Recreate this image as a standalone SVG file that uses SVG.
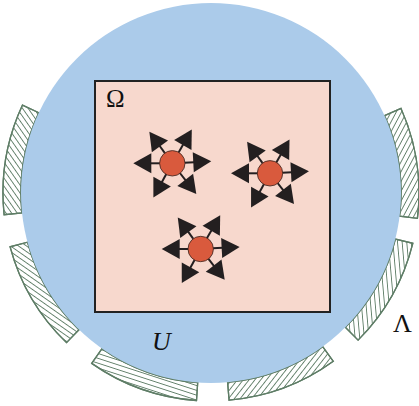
<svg xmlns="http://www.w3.org/2000/svg" xmlns:xlink="http://www.w3.org/1999/xlink" width="419" height="406" viewBox="0 0 419 406">
<style>
.arc{stroke:#5e7d66;stroke-width:1.3;stroke-linejoin:miter}
.hl{stroke:#5e7d66;stroke-width:0.9}
.lbl{font-family:"Liberation Serif","DejaVu Serif",serif;fill:#111}
.ar{fill:#231f20}
.sp{stroke:#231f20;stroke-width:2}
.core{fill:#d95a3d;stroke:#3a2420;stroke-width:0.8}
</style>
<defs>
<pattern id="hA" width="4.6" height="4.6" patternUnits="userSpaceOnUse" patternTransform="rotate(55)"><line class="hl" x1="0" y1="2.3" x2="4.6" y2="2.3"/></pattern>
<pattern id="hB" width="4.6" height="4.6" patternUnits="userSpaceOnUse" patternTransform="rotate(35)"><line class="hl" x1="0" y1="2.3" x2="4.6" y2="2.3"/></pattern>
<pattern id="hC" width="4.6" height="4.6" patternUnits="userSpaceOnUse" patternTransform="rotate(18)"><line class="hl" x1="0" y1="2.3" x2="4.6" y2="2.3"/></pattern>
<pattern id="hD" width="4.6" height="4.6" patternUnits="userSpaceOnUse" patternTransform="rotate(-52)"><line class="hl" x1="0" y1="2.3" x2="4.6" y2="2.3"/></pattern>
<pattern id="hE" width="4.6" height="4.6" patternUnits="userSpaceOnUse" patternTransform="rotate(85)"><line class="hl" x1="0" y1="2.3" x2="4.6" y2="2.3"/></pattern>
<pattern id="hF" width="4.6" height="4.6" patternUnits="userSpaceOnUse" patternTransform="rotate(-62)"><line class="hl" x1="0" y1="2.3" x2="4.6" y2="2.3"/></pattern>
<g id="spoke">
<line class="sp" x1="12" y1="0" x2="22" y2="0"/>
<path class="ar" d="M21,-10 L39,0 L21,10 Z"/>
</g>
<g id="star">
<use xlink:href="#spoke" transform="rotate(-3)"/>
<use xlink:href="#spoke" transform="rotate(-60)"/>
<use xlink:href="#spoke" transform="rotate(-126)"/>
<use xlink:href="#spoke" transform="rotate(-180)"/>
<use xlink:href="#spoke" transform="rotate(-241)"/>
<use xlink:href="#spoke" transform="rotate(-308)"/>
</g>
</defs>

<g id="arcs">
<path class="arc" fill="#fff" d="M22.5,105.1 A208,208 0 0 0 4.1,214.7 L22.0,212.9 A190,190 0 0 1 38.8,112.7 Z"/>
<path class="arc" fill="url(#hA)" d="M22.5,105.1 A208,208 0 0 0 4.1,214.7 L22.0,212.9 A190,190 0 0 1 38.8,112.7 Z"/>
<path class="arc" fill="#fff" d="M10.1,246.8 A208,208 0 0 0 66.5,342.6 L79.0,329.7 A190,190 0 0 1 27.5,242.2 Z"/>
<path class="arc" fill="url(#hB)" d="M10.1,246.8 A208,208 0 0 0 66.5,342.6 L79.0,329.7 A190,190 0 0 1 27.5,242.2 Z"/>
<path class="arc" fill="#fff" d="M91.7,363.4 A208,208 0 0 0 196.5,400.5 L197.7,382.5 A190,190 0 0 1 102.0,348.6 Z"/>
<path class="arc" fill="url(#hC)" d="M91.7,363.4 A208,208 0 0 0 196.5,400.5 L197.7,382.5 A190,190 0 0 1 102.0,348.6 Z"/>
<path class="arc" fill="#fff" d="M229.1,400.2 A208,208 0 0 0 333.3,361.3 L322.7,346.7 A190,190 0 0 1 227.6,382.3 Z"/>
<path class="arc" fill="url(#hD)" d="M229.1,400.2 A208,208 0 0 0 333.3,361.3 L322.7,346.7 A190,190 0 0 1 227.6,382.3 Z"/>
<path class="arc" fill="#fff" d="M358.1,340.1 A208,208 0 0 0 412.8,243.3 L395.4,239.0 A190,190 0 0 1 345.3,327.3 Z"/>
<path class="arc" fill="url(#hE)" d="M358.1,340.1 A208,208 0 0 0 412.8,243.3 L395.4,239.0 A190,190 0 0 1 345.3,327.3 Z"/>
<path class="arc" fill="#fff" d="M417.4,218.3 A208,208 0 0 0 401.0,108.4 L384.6,115.7 A190,190 0 0 1 399.6,216.2 Z"/>
<path class="arc" fill="url(#hF)" d="M417.4,218.3 A208,208 0 0 0 401.0,108.4 L384.6,115.7 A190,190 0 0 1 399.6,216.2 Z"/>
</g>

<g id="domainU">
<circle cx="211" cy="193" r="190" fill="#abcbea"/>
</g>
<g id="omega">
<rect x="95" y="81" width="235" height="231" fill="#f7d8cd" stroke="#222" stroke-width="2"/>
</g>

<g id="node1" transform="translate(172.3,163.3)">
<use xlink:href="#star"/>
<circle class="core" r="12.7"/>
</g>
<g id="node2" transform="translate(270,173.3)">
<use xlink:href="#star"/>
<circle class="core" r="12.7"/>
</g>
<g id="node3" transform="translate(200.7,249)">
<use xlink:href="#star"/>
<circle class="core" r="12.7"/>
</g>

<text class="lbl" x="106" y="107" font-size="25">Ω</text>
<text class="lbl" x="152" y="350" font-size="26" font-style="italic">U</text>
<text class="lbl" x="393" y="332" font-size="26">Λ</text>
</svg>
